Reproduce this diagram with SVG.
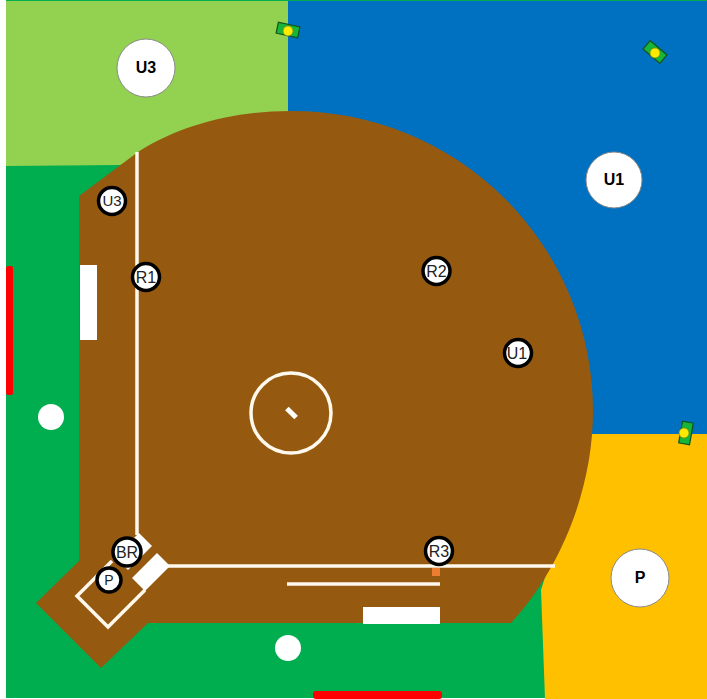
<svg xmlns="http://www.w3.org/2000/svg" width="707" height="699" viewBox="0 0 707 699">
<style>
.f{font-family:"Liberation Sans",Arial,sans-serif;text-anchor:middle}
.big{font-size:16px;font-weight:bold;fill:#000}
.sm{font-size:16px;fill:#222}
.ump{fill:#fff;stroke:#8a8a8a;stroke-width:1}
.pl{fill:#fff;stroke:#000;stroke-width:3.5}
.ln{fill:none;stroke:#fff8ec;stroke-width:3.5}
.w{fill:#fff}
.red{fill:#f00}
</style>
<defs>
<g id="lamp"><rect x="-11" y="-5.500" width="22" height="11" fill="#17b53a" stroke="#14541c" stroke-width="1.200"/></g>
</defs>
<rect width="707" height="699" fill="#fff"/>
<g id="field">
<rect x="6" y="0" width="701" height="698" fill="#00ad4f"/>
<path d="M6 1H288V130L120 165L6 166Z" fill="#92d250"/>
<path d="M288 1H707V434H560L288 200Z" fill="#0070c0"/>
<path d="M590 434H707V699H545L541 590Z" fill="#ffc000"/>
</g>
<path id="dirt" d="M79 196L138 152C180 125 235 111 290 111A300 300 0 0 1 593 411C593 490 560 570 511 623H148L101 668L36 603L79 561Z" fill="#955a10"/>
<g id="markings">
<path class="ln" d="M137 152V535"/>
<path class="ln" d="M165 566H555"/>
<path class="ln" d="M287 584H440"/>
<path class="ln" d="M112 561L77 596L108 627L145 590"/>
<circle class="ln" cx="291" cy="413" r="40"/>
<rect class="w" x="285" y="410.500" width="13" height="5" transform="rotate(45 291.500 413)"/>
<path class="w" d="M139 533L152 546L128 570L115 557Z"/>
<path class="w" d="M132 578L157 553L170 566L145 591Z"/>
<rect class="w" x="80" y="265" width="17" height="75"/>
<rect class="w" x="363" y="607" width="77" height="17"/>
<rect x="432" y="568" width="8" height="8" fill="#ed7d31"/>
</g>
<g id="fences">
<rect class="red" x="6" y="266" width="7" height="129" rx="2"/>
<rect class="red" x="313" y="691" width="129" height="8" rx="3"/>
</g>
<g id="lamp1"><use href="#lamp" transform="translate(288 30) rotate(12)"/><circle cx="288" cy="31" r="5" fill="#ffea00" stroke="#7a8a10" stroke-width="0.700"/></g>
<g id="lamp2"><use href="#lamp" transform="translate(655 52) rotate(40)"/><circle cx="655" cy="53" r="5" fill="#ffea00" stroke="#7a8a10" stroke-width="0.700"/></g>
<g id="lamp3"><use href="#lamp" transform="translate(686 433) rotate(-80)"/><circle cx="684" cy="433" r="5" fill="#ffea00" stroke="#7a8a10" stroke-width="0.700"/></g>
<g id="ball1"><circle class="w" cx="51" cy="417" r="13"/></g>
<g id="ball2"><circle class="w" cx="288" cy="648" r="13"/></g>
<g id="ump-U3"><circle class="ump" cx="146" cy="68" r="29"/><text class="f big" x="146" y="73">U3</text></g>
<g id="ump-U1"><circle class="ump" cx="614" cy="180" r="28"/><text class="f big" x="614" y="185">U1</text></g>
<g id="ump-P"><circle class="ump" cx="640" cy="578" r="29"/><text class="f big" x="640" y="583">P</text></g>
<g id="p-U3"><circle class="pl" cx="112" cy="201" r="13.500"/><text class="f sm" x="112" y="206" style="font-size:15px">U3</text></g>
<g id="p-R1"><circle class="pl" cx="146" cy="277" r="13.500"/><text class="f sm" x="146" y="282.500">R1</text></g>
<g id="p-R2"><circle class="pl" cx="436.500" cy="271" r="13.500"/><text class="f sm" x="436.500" y="276.500">R2</text></g>
<g id="p-U1"><circle class="pl" cx="518" cy="353" r="13.500"/><text class="f sm" x="517" y="358.500">U1</text></g>
<g id="p-R3"><circle class="pl" cx="439" cy="551" r="13.500"/><text class="f sm" x="439" y="556.500">R3</text></g>
<g id="p-BR"><circle class="pl" cx="127" cy="552" r="14"/><text class="f sm" x="127" y="557.500">BR</text></g>
<g id="p-P"><circle class="pl" cx="109" cy="580" r="12"/><text class="f sm" x="109" y="585" style="font-size:14px">P</text></g>
</svg>
